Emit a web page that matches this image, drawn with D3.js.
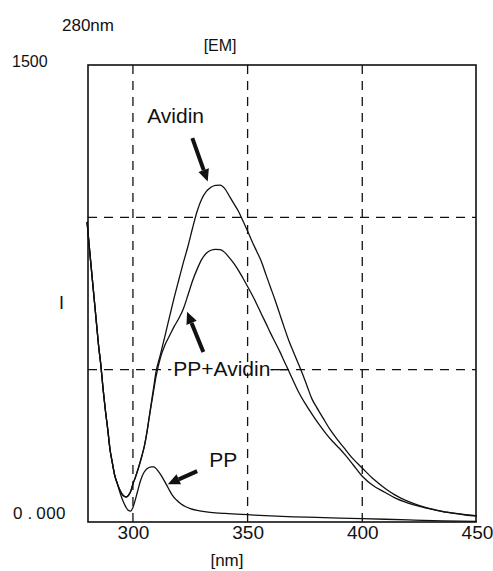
<!DOCTYPE html>
<html>
<head>
<meta charset="utf-8">
<script src="https://cdn.jsdelivr.net/npm/d3@7"></script>
<style>
  body { margin: 0; background: #fff; }
  text { font-family: "Liberation Sans", Arial, sans-serif; fill: #111; }
</style>
</head>
<body>
<div id="chart"></div>
<script>
// Spectra: [wavelength nm, intensity]
var avidin = [
  [280, 985], [281, 900], [282, 820], [283, 740], [284, 660], [285, 580], [286, 515],
  [287, 435], [288, 365], [289, 305], [290, 238], [291, 195], [292, 155], [293, 130],
  [294, 110], [295, 95], [296, 85], [297, 82], [298, 87], [299, 100], [300, 125],
  [301, 145], [302, 168], [303, 193], [304, 220], [305, 250], [306, 290], [307, 340],
  [308, 390], [309, 440], [310, 490], [312, 550], [314, 612], [316, 675], [318, 737],
  [320, 795], [322, 852], [324, 905], [326, 965], [328, 1020], [330, 1060], [332, 1085],
  [334, 1099], [336, 1105], [338, 1106], [340, 1095], [342, 1070], [344, 1045],
  [346, 1020], [348, 988], [350, 955], [352, 920], [354, 888], [356, 855], [358, 812],
  [360, 770], [362, 728], [364, 683], [366, 638], [368, 595], [370, 558], [372, 522],
  [374, 485], [376, 445], [378, 405], [380, 378], [383, 340], [386, 303], [389, 272],
  [392, 244], [396, 207], [400, 177], [405, 140], [410, 110], [414, 90], [420, 68],
  [425, 54], [430, 43], [435, 35], [440, 29], [445, 24], [450, 20]
];

var ppAvidin = [
  [280, 985], [281, 900], [282, 820], [283, 740], [284, 660], [285, 580], [286, 515],
  [287, 435], [288, 365], [289, 305], [290, 238], [291, 195], [292, 155], [293, 130],
  [294, 110], [295, 95], [296, 85], [297, 82], [298, 87], [299, 100], [300, 125],
  [301, 145], [302, 168], [303, 193], [304, 220], [305, 250], [306, 290], [307, 338],
  [308, 385], [309, 430], [310, 475], [312, 540], [314, 582], [316, 612], [318, 642],
  [320, 668], [322, 700], [324, 745], [326, 792], [328, 830], [330, 862], [332, 882],
  [334, 892], [336, 895], [338, 894], [340, 885], [342, 868], [344, 849], [346, 826],
  [348, 800], [350, 773], [352, 745], [354, 715], [356, 683], [358, 652], [360, 620],
  [362, 590], [364, 560], [366, 527], [368, 495], [370, 462], [372, 430], [375, 390],
  [378, 355], [381, 322], [384, 292], [387, 265], [390, 242], [393, 216], [396, 188],
  [400, 150], [405, 118], [410, 97], [414, 80], [420, 62], [425, 51], [430, 42],
  [435, 34], [440, 28], [445, 23], [450, 19]
];

var pp = [
  [280, 985], [281, 900], [282, 820], [283, 740], [284, 660], [285, 580], [286, 515],
  [287, 435], [288, 365], [289, 305], [290, 238], [291, 195], [292, 155], [293, 130],
  [294, 105], [295, 82], [296, 63], [297, 48], [298, 38], [299, 36], [300, 48],
  [301, 72], [302, 100], [303, 128], [304, 150], [305, 165], [306, 174], [307, 179],
  [308, 181], [309, 181], [310, 176], [311, 167], [312, 156], [313, 144], [314, 131],
  [315, 117], [316, 103], [317, 90], [319, 72], [321, 59], [323, 50], [325, 44],
  [328, 38], [332, 33], [336, 30], [340, 28], [345, 26], [350, 24], [360, 20],
  [370, 17], [380, 15], [390, 13], [400, 11], [420, 7], [435, 4], [450, 2]
];

var xTicks = [300, 350, 400, 450];
var xGrid = [300, 350, 400];
var yGrid = [500, 1000];
var yLabels = ["0.000", "1500"];

// SVG size
var svgWidth = 493;
var svgHeight = 571;

var margin = { top: 65, right: 17, bottom: 49, left: 88 };
var chartWidth = svgWidth - margin.left - margin.right;
var chartHeight = svgHeight - margin.top - margin.bottom;

var svg = d3.select("#chart")
  .append("svg")
  .attr("width", svgWidth)
  .attr("height", svgHeight);

var chartGroup = svg.append("g")
  .attr("transform", `translate(${margin.left}, ${margin.top})`);

// scales
var xScale = d3.scaleLinear()
  .domain([280.4, 449.6])
  .range([0, chartWidth]);

var yScale = d3.scaleLinear()
  .domain([0, 1500])
  .range([chartHeight, 0]);

// dashed grid
chartGroup.selectAll(".gridX")
  .data(xGrid)
  .enter().append("line")
  .attr("x1", d => xScale(d))
  .attr("x2", d => xScale(d))
  .attr("y1", 0)
  .attr("y2", chartHeight)
  .attr("stroke", "#111")
  .attr("stroke-width", 1.3)
  .attr("stroke-dasharray", "9,7");

chartGroup.selectAll(".gridY")
  .data(yGrid)
  .enter().append("line")
  .attr("x1", 0)
  .attr("x2", chartWidth)
  .attr("y1", d => yScale(d))
  .attr("y2", d => yScale(d))
  .attr("stroke", "#111")
  .attr("stroke-width", 1.3)
  .attr("stroke-dasharray", "9,7");

// frame
chartGroup.append("rect")
  .attr("x", 0)
  .attr("y", 0)
  .attr("width", chartWidth)
  .attr("height", chartHeight)
  .attr("fill", "none")
  .attr("stroke", "#111")
  .attr("stroke-width", 1.6);

// label background for PP+Avidin (goes under the curves)
var labelBg = chartGroup.append("g");

// curves
var line = d3.line()
  .x(d => xScale(d[0]))
  .y(d => yScale(d[1]))
  .curve(d3.curveMonotoneX);

[avidin, ppAvidin, pp].forEach(function(series) {
  chartGroup.append("path")
    .datum(series)
    .attr("d", line)
    .attr("fill", "none")
    .attr("stroke", "#111")
    .attr("stroke-width", 1.3);
});

// bottom axis labels
var bottomAxis = d3.axisBottom(xScale)
  .tickValues(xTicks)
  .tickSize(0)
  .tickPadding(3);

var xAxisG = chartGroup.append("g")
  .attr("transform", `translate(0, ${chartHeight})`)
  .call(bottomAxis);
xAxisG.select(".domain").remove();
xAxisG.selectAll("text")
  .attr("font-family", "Liberation Sans, Arial, sans-serif")
  .attr("font-size", 19)
  .attr("fill", "#111");

// left labels
svg.append("text")
  .attr("x", 12)
  .attr("y", margin.top + yScale(1500) + 2)
  .attr("font-size", 16)
  .text(yLabels[1]);

var zeroLabel = svg.append("text")
  .attr("x", 13)
  .attr("y", margin.top + yScale(0) - 3)
  .attr("font-size", 17);
zeroLabel.append("tspan").text("0");
zeroLabel.append("tspan").attr("dx", 5).text(".");
zeroLabel.append("tspan").attr("dx", 4).attr("letter-spacing", 0.5).text("000");

svg.append("text")
  .attr("x", 59)
  .attr("y", margin.top + yScale(700))
  .attr("font-size", 18)
  .text("I");

// titles
svg.append("text")
  .attr("x", 62)
  .attr("y", 31)
  .attr("font-size", 17)
  .text("280nm");

svg.append("text")
  .attr("x", margin.left + xScale(338))
  .attr("y", 51)
  .attr("text-anchor", "middle")
  .attr("font-size", 16)
  .text("[EM]");

svg.append("text")
  .attr("x", margin.left + xScale(341))
  .attr("y", 566)
  .attr("text-anchor", "middle")
  .attr("font-size", 17)
  .text("[nm]");

// annotations
function arrow(x1, y1, x2, y2) {
  var ax = xScale(x1), ay = yScale(y1), bx = xScale(x2), by = yScale(y2);
  var dx = bx - ax, dy = by - ay, len = Math.sqrt(dx * dx + dy * dy);
  var ux = dx / len, uy = dy / len;
  var headLen = 12, headW = 5.5;
  var hx = bx - ux * headLen, hy = by - uy * headLen;
  chartGroup.append("line")
    .attr("x1", ax).attr("y1", ay)
    .attr("x2", hx).attr("y2", hy)
    .attr("stroke", "#111")
    .attr("stroke-width", 4);
  chartGroup.append("path")
    .attr("d", `M${bx},${by} L${hx - uy * headW},${hy + ux * headW} L${hx + uy * headW},${hy - ux * headW} Z`)
    .attr("fill", "#111");
}

chartGroup.append("text")
  .attr("x", xScale(306.2))
  .attr("y", yScale(1310))
  .attr("font-size", 21)
  .text("Avidin");
arrow(325.9, 1260, 332.6, 1118);

var ppAvText = chartGroup.append("text")
  .attr("x", xScale(317.6))
  .attr("y", yScale(480))
  .attr("font-size", 21)
  .text("PP+Avidin");
var bb = ppAvText.node().getBBox();
labelBg.append("rect")
  .attr("x", bb.x - 2)
  .attr("y", yScale(500) - 3)
  .attr("width", bb.width + 3)
  .attr("height", 6)
  .attr("fill", "#fff");
chartGroup.append("line")
  .attr("x1", bb.x + bb.width)
  .attr("x2", xScale(367.4))
  .attr("y1", yScale(500))
  .attr("y2", yScale(500))
  .attr("stroke", "#111")
  .attr("stroke-width", 1.3);
arrow(330.7, 558, 323.6, 690);

chartGroup.append("text")
  .attr("x", xScale(333.3))
  .attr("y", yScale(180))
  .attr("font-size", 21)
  .text("PP");
arrow(328.0, 167, 315.2, 124);
</script>
</body>
</html>
